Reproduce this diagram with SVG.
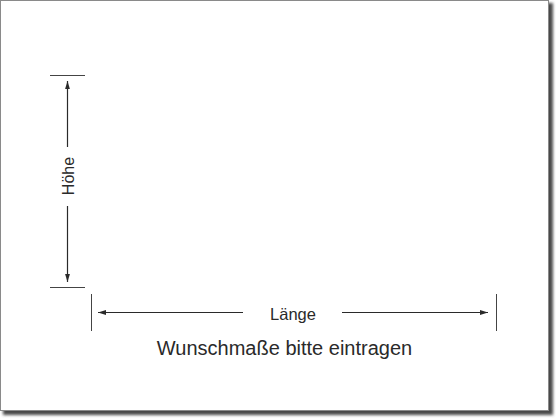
<svg xmlns="http://www.w3.org/2000/svg" width="560" height="420" viewBox="0 0 560 420">
<style>
.dim{stroke:#2a2a2a;stroke-width:1.2;fill:none}
.tick{stroke:#444;stroke-width:1}
.lbl{font-family:"Liberation Sans",Arial,sans-serif;fill:#2a2a2a}
</style>
<defs>
<filter id="sh" x="-5%" y="-5%" width="110%" height="110%"><feGaussianBlur stdDeviation="1.6"/></filter>
<marker id="ah" viewBox="0 0 10 6" refX="10" refY="3" markerWidth="8" markerHeight="5" markerUnits="userSpaceOnUse" orient="auto-start-reverse"><path d="M0,0 L10,3 L0,6 Z" fill="#2a2a2a"/></marker>
</defs>
<rect width="560" height="420" fill="#fff"/>
<g id="panel">
<rect x="3" y="3" width="550" height="412" fill="#4a4a4a" filter="url(#sh)"/>
<rect x="0.5" y="0.5" width="548" height="410" fill="#fff" stroke="#8a8a8a" stroke-width="1"/>
</g>
<g id="connectors">
<line class="tick" x1="50" y1="75.5" x2="85" y2="75.5"/>
<line class="tick" x1="50" y1="287.5" x2="85" y2="287.5"/>
<line class="dim" x1="67.5" y1="147" x2="67.5" y2="81" marker-end="url(#ah)"/>
<line class="dim" x1="67.5" y1="206" x2="67.5" y2="282" marker-end="url(#ah)"/>
<line class="tick" x1="91.5" y1="294" x2="91.5" y2="331"/>
<line class="tick" x1="496.5" y1="294" x2="496.5" y2="331"/>
<line class="dim" x1="243" y1="312.5" x2="98" y2="312.5" marker-end="url(#ah)"/>
<line class="dim" x1="342" y1="312.5" x2="488" y2="312.5" marker-end="url(#ah)"/>
</g>
<g id="hoehe">
<text class="lbl" font-size="16" text-anchor="middle" transform="translate(73.5,176) rotate(-90)">Höhe</text>
</g>
<g id="laenge">
<text class="lbl" font-size="16.5" x="293" y="319.5" text-anchor="middle">Länge</text>
</g>
<g id="hinweis">
<text class="lbl" font-size="20" x="284.5" y="355" text-anchor="middle">Wunschmaße bitte eintragen</text>
</g>
</svg>
